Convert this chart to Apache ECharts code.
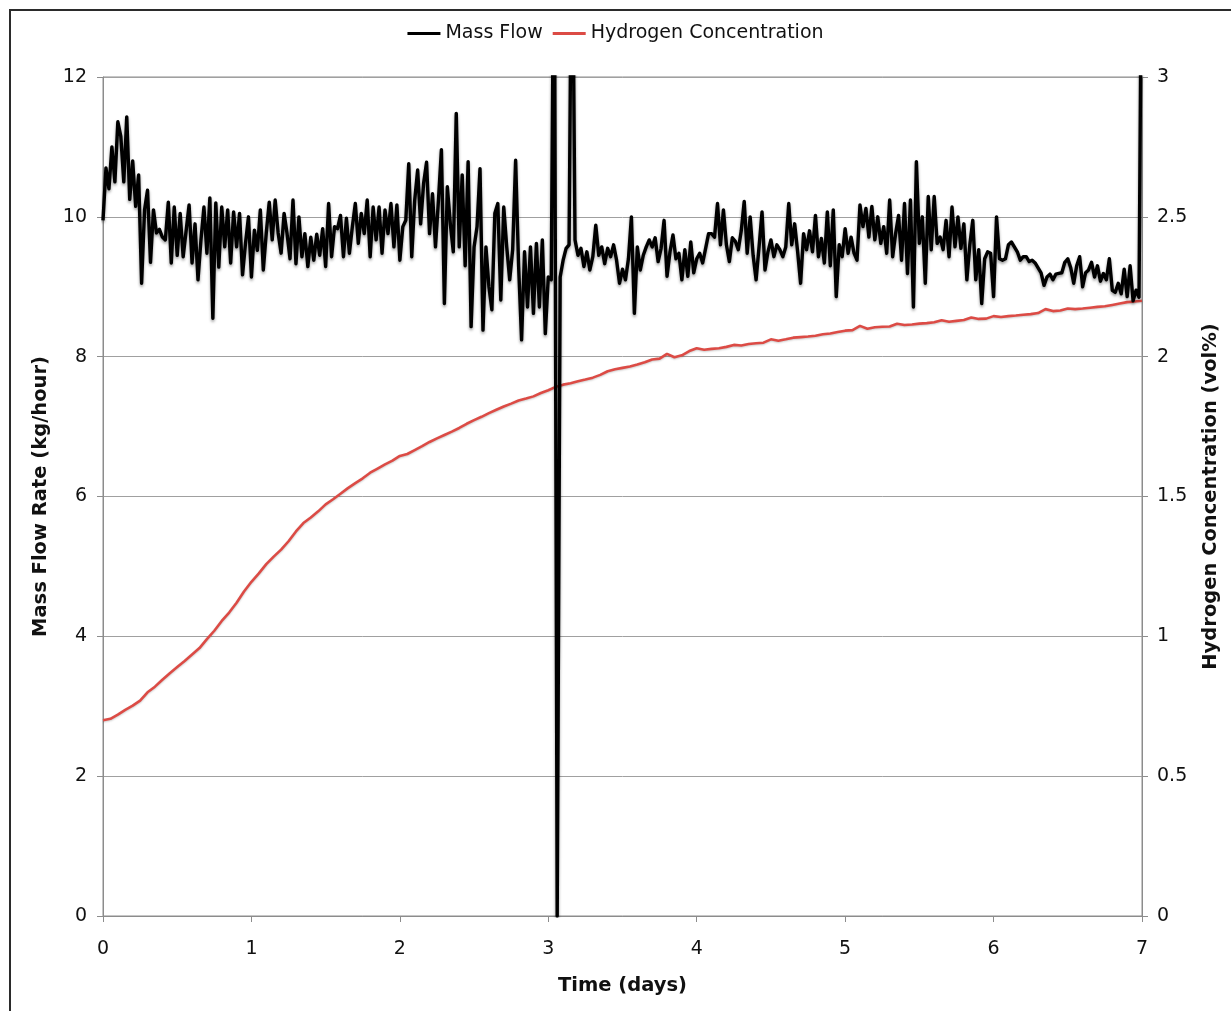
<!DOCTYPE html>
<html>
<head>
<meta charset="utf-8">
<title>Mass Flow and Hydrogen Concentration</title>
<script src="https://cdn.jsdelivr.net/npm/echarts@6/dist/echarts.min.js"></script>
<style>
  html, body { margin: 0; padding: 0; background: #ffffff; }
  #chart { width: 1231px; height: 1011px; }
</style>
</head>
<body>
<div id="chart"></div>
<script>
// Mass flow rate (kg/hour), sampled every 0.02 days from day 0 to day 7
const MASS_FLOW_STEP_DAYS = 0.02;
const massFlowRate = [
  9.95, 10.7, 10.4, 11.0, 10.5, 11.36, 11.15, 10.5, 11.43, 10.25,
  10.8, 10.15, 10.6, 9.05, 10.1, 10.38, 9.35, 10.1, 9.77, 9.82,
  9.71, 9.67, 10.21, 9.34, 10.14, 9.45, 10.05, 9.43, 9.8, 10.17,
  9.34, 9.9, 9.1, 9.67, 10.14, 9.48, 10.27, 8.55, 10.2, 9.28,
  10.14, 9.57, 10.1, 9.34, 10.07, 9.57, 10.05, 9.17, 9.62, 10.0,
  9.14, 9.81, 9.52, 10.1, 9.24, 9.77, 10.21, 9.67, 10.24, 9.77,
  9.48, 10.05, 9.76, 9.4, 10.24, 9.33, 10.0, 9.43, 9.76, 9.29,
  9.71, 9.38, 9.75, 9.45, 9.83, 9.29, 10.19, 9.43, 9.86, 9.83,
  10.02, 9.43, 9.98, 9.48, 9.86, 10.19, 9.62, 10.05, 9.76, 10.24,
  9.43, 10.14, 9.67, 10.14, 9.48, 10.1, 9.76, 10.19, 9.57, 10.17,
  9.38, 9.86, 9.95, 10.76, 9.43, 10.24, 10.67, 9.9, 10.48, 10.78,
  9.76, 10.33, 9.57, 10.24, 10.96, 8.76, 10.43, 9.9, 9.5, 11.48,
  9.57, 10.6, 9.3, 10.79, 8.43, 9.57, 9.86, 10.69, 8.38, 9.57,
  9.0, 8.67, 10.05, 10.19, 8.81, 10.14, 9.57, 9.1, 9.53, 10.81,
  9.3, 8.24, 9.5, 8.71, 9.57, 8.62, 9.62, 8.71, 9.67, 8.33,
  9.14, 9.1, 15, 0, 9.14, 9.38, 9.55, 9.6, 15, 9.67,
  9.45, 9.55, 9.29, 9.5, 9.24, 9.43, 9.88, 9.45, 9.57, 9.33,
  9.55, 9.43, 9.6, 9.38, 9.05, 9.25, 9.1, 9.4, 10.0, 8.62,
  9.57, 9.24, 9.45, 9.57, 9.67, 9.57, 9.7, 9.36, 9.55, 9.95,
  9.15, 9.5, 9.74, 9.4, 9.48, 9.1, 9.53, 9.15, 9.64, 9.2,
  9.4, 9.48, 9.34, 9.55, 9.76, 9.76, 9.71, 10.19, 9.6, 10.1,
  9.6, 9.36, 9.7, 9.65, 9.53, 9.8, 10.22, 9.48, 10.0, 9.45,
  9.1, 9.57, 10.07, 9.24, 9.5, 9.67, 9.43, 9.6, 9.53, 9.43,
  9.57, 10.19, 9.6, 9.9, 9.5, 9.05, 9.76, 9.53, 9.8, 9.5,
  10.02, 9.43, 9.69, 9.34, 10.07, 9.3, 10.1, 8.86, 9.6, 9.43,
  9.83, 9.48, 9.71, 9.48, 9.38, 10.17, 9.86, 10.12, 9.71, 10.15,
  9.67, 10.0, 9.62, 9.86, 9.48, 10.24, 9.43, 9.76, 10.02, 9.38,
  10.19, 9.19, 10.24, 8.71, 10.79, 9.62, 10.0, 9.05, 10.29, 9.53,
  10.29, 9.62, 9.71, 9.53, 9.95, 9.43, 10.14, 9.57, 10.0, 9.55,
  9.9, 9.1, 9.6, 9.95, 9.1, 9.53, 8.76, 9.4, 9.5, 9.48,
  8.86, 10.0, 9.4, 9.38, 9.4, 9.6, 9.64, 9.57, 9.5, 9.38,
  9.43, 9.43, 9.36, 9.38, 9.34, 9.27, 9.2, 9.02, 9.14, 9.18,
  9.1, 9.18, 9.19, 9.2, 9.35, 9.4, 9.27, 9.05, 9.3, 9.43,
  9.0, 9.2, 9.24, 9.35, 9.14, 9.3, 9.08, 9.19, 9.1, 9.4,
  8.95, 8.92, 9.05, 8.9, 9.25, 8.86, 9.3, 8.8, 8.95, 8.85,
  15
];

// Hydrogen concentration (vol%), sampled every 0.05 days from day 0 to day 7
const HYDROGEN_STEP_DAYS = 0.05;
const hydrogenConcentration = [
  0.70, 0.705, 0.72, 0.737, 0.752, 0.77, 0.80, 0.82, 0.845, 0.868,
  0.89, 0.912, 0.935, 0.958, 0.99, 1.02, 1.055, 1.085, 1.12, 1.16,
  1.195, 1.225, 1.258, 1.285, 1.31, 1.34, 1.375, 1.405, 1.425, 1.447,
  1.472, 1.49, 1.51, 1.53, 1.548, 1.565, 1.585, 1.60, 1.615, 1.628,
  1.645, 1.652, 1.666, 1.68, 1.695, 1.708, 1.72, 1.732, 1.745, 1.76,
  1.773, 1.785, 1.798, 1.81, 1.822, 1.832, 1.843, 1.85, 1.858, 1.87,
  1.88, 1.892, 1.9, 1.905, 1.912, 1.918, 1.925, 1.935, 1.948, 1.955,
  1.96, 1.965, 1.972, 1.98, 1.99, 1.993, 2.01, 1.998, 2.005, 2.02,
  2.03, 2.025, 2.028, 2.03, 2.035, 2.042, 2.04, 2.045, 2.048, 2.05,
  2.062, 2.057, 2.062, 2.068, 2.07, 2.072, 2.075, 2.08, 2.083, 2.088,
  2.093, 2.095, 2.11, 2.1, 2.105, 2.107, 2.108, 2.118, 2.113, 2.115,
  2.118, 2.12, 2.123, 2.13, 2.125, 2.128, 2.131, 2.14, 2.135, 2.136,
  2.145, 2.142, 2.145, 2.147, 2.15, 2.152, 2.156, 2.17, 2.163, 2.165,
  2.172, 2.17, 2.172, 2.175, 2.178, 2.18, 2.185, 2.19, 2.195, 2.197,
  2.2
];

// Axis ranges and tick spacing
const timeAxis = { min: 0, max: 7, interval: 1 };
const flowAxis = { min: 0, max: 12, interval: 2 };
const hydrogenAxis = { min: 0, max: 3, interval: 0.5 };

const seriesNames = ['Mass Flow', 'Hydrogen Concentration'];
const seriesColors = ['#000000', '#dc4b45'];

const withDays = (values, step) =>
  values.map((v, i) => [Number((i * step).toFixed(4)), v]);

const FONT = '"DejaVu Sans", Verdana, sans-serif';
const AXIS_GRAY = '#8c8c8c';

const chart = echarts.init(document.getElementById('chart'), null, { renderer: 'canvas' });

chart.setOption({
  animation: false,
  backgroundColor: '#ffffff',
  textStyle: { fontFamily: FONT },
  graphic: [{
    type: 'rect',
    shape: { x: 10, y: 10, width: 1260, height: 1040 },
    style: { fill: 'none', stroke: '#2b2b2b', lineWidth: 2 },
    silent: true,
    z: 0
  }],
  legend: {
    top: 19,
    left: 'center',
    icon: 'rect',
    itemWidth: 33,
    itemHeight: 3,
    itemGap: 10,
    data: seriesNames,
    textStyle: { fontFamily: FONT, fontSize: 19, color: '#111' }
  },
  grid: {
    left: 103,
    right: 89,
    top: 77,
    bottom: 95,
    show: true,
    borderColor: AXIS_GRAY,
    borderWidth: 1,
    backgroundColor: 'transparent'
  },
  xAxis: {
    type: 'value',
    min: timeAxis.min,
    max: timeAxis.max,
    interval: timeAxis.interval,
    name: 'Time (days)',
    nameLocation: 'middle',
    nameGap: 60,
    nameTextStyle: { fontFamily: FONT, fontSize: 19.5, fontWeight: 'bold', color: '#111' },
    axisLine: { show: true, lineStyle: { color: AXIS_GRAY, width: 1 } },
    axisTick: { show: true, length: 6, lineStyle: { color: AXIS_GRAY } },
    axisLabel: { fontFamily: FONT, fontSize: 19, color: '#111', margin: 24 },
    splitLine: { show: false }
  },
  yAxis: [{
    type: 'value',
    position: 'left',
    min: flowAxis.min,
    max: flowAxis.max,
    interval: flowAxis.interval,
    name: 'Mass Flow Rate (kg/hour)',
    nameLocation: 'middle',
    nameGap: 52,
    nameTextStyle: { fontFamily: FONT, fontSize: 19.5, fontWeight: 'bold', color: '#111' },
    axisLine: { show: true, lineStyle: { color: AXIS_GRAY, width: 1 } },
    axisTick: { show: true, length: 6, lineStyle: { color: AXIS_GRAY } },
    axisLabel: { fontFamily: FONT, fontSize: 19, color: '#111', margin: 16 },
    splitLine: { show: true, lineStyle: { color: '#a0a0a0', width: 1 } }
  }, {
    type: 'value',
    position: 'right',
    min: hydrogenAxis.min,
    max: hydrogenAxis.max,
    interval: hydrogenAxis.interval,
    name: 'Hydrogen Concentration (vol%)',
    nameLocation: 'middle',
    nameGap: 59,
    nameTextStyle: { fontFamily: FONT, fontSize: 19.5, fontWeight: 'bold', color: '#111' },
    axisLine: { show: true, lineStyle: { color: AXIS_GRAY, width: 1 } },
    axisTick: { show: true, length: 6, lineStyle: { color: AXIS_GRAY } },
    axisLabel: { fontFamily: FONT, fontSize: 19, color: '#111', margin: 15 },
    splitLine: { show: false }
  }],
  series: [{
    name: seriesNames[0],
    type: 'line',
    yAxisIndex: 0,
    data: withDays(massFlowRate, MASS_FLOW_STEP_DAYS),
    showSymbol: false,
    symbol: 'none',
    clip: true,
    z: 3,
    color: seriesColors[0],
    lineStyle: {
      color: seriesColors[0],
      width: 3.4,
      join: 'round',
      shadowColor: 'rgba(0,0,0,0.4)',
      shadowBlur: 3,
      shadowOffsetY: 2
    }
  }, {
    name: seriesNames[1],
    type: 'line',
    yAxisIndex: 1,
    data: withDays(hydrogenConcentration, HYDROGEN_STEP_DAYS),
    showSymbol: false,
    symbol: 'none',
    clip: true,
    z: 2,
    color: seriesColors[1],
    lineStyle: {
      color: seriesColors[1],
      width: 2.6,
      shadowColor: 'rgba(0,0,0,0.2)',
      shadowBlur: 2,
      shadowOffsetY: 1
    }
  }]
});
</script>
</body>
</html>
